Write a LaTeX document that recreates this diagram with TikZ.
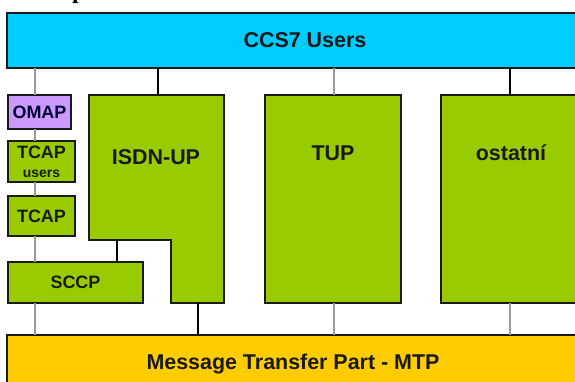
\documentclass[tikz,border=0pt]{standalone}
\usepackage{fontspec}
\setmainfont{Liberation Sans}
\newfontfamily\headfont{Liberation Serif}
\definecolor{usercyan}{HTML}{00CCFF}
\definecolor{partgreen}{HTML}{99CC00}
\definecolor{mtpyellow}{HTML}{FFCC00}
\definecolor{omappurple}{HTML}{CC99FF}
\definecolor{edge}{HTML}{1A1A1A}
\definecolor{greyline}{HTML}{9A9A9A}
\begin{document}
\begin{tikzpicture}[x=1bp,y=-1bp,
  blk/.style={draw=edge,line width=1.3bp,inner sep=0pt,outer sep=0pt,font=\bfseries},
  lbl/.style={inner sep=0pt,font=\bfseries\fontsize{21.5}{24}\selectfont,text=black!90},
  smalllbl/.style={inner sep=0pt,font=\bfseries\fontsize{18}{20}\selectfont,text=black!90},
  darkwire/.style={draw=black,line width=1.2bp},
  greywire/.style={draw=greyline,line width=2bp}]
\useasboundingbox (0,0) rectangle (575,381);

% remnant of the heading above the diagram
\node[anchor=base west,inner sep=0pt,font=\headfont\bfseries\fontsize{24}{26}\selectfont] (head) at (72,-1.2) {p};

% CCS7 users layer and MTP layer
\node[blk,fill=usercyan,minimum width=596bp,minimum height=55bp] (ccs) at (305,40.5) {};
\node[lbl] (ccstext) at (305,40.5) {CCS7 Users};
\node[blk,fill=mtpyellow,minimum width=572bp,minimum height=58bp,anchor=north] (mtp) at (293,335) {};
\node[lbl] (mtptext) at (293,364) {Message Transfer Part - MTP};

% left stack
\node[blk,fill=omappurple,minimum width=63bp,minimum height=34bp] (omap) at (39.5,112) {};
\node[inner sep=0pt,font=\bfseries\fontsize{18}{20}\selectfont,text=black!80!blue] (omaptext) at (39.5,112) {OMAP};
\node[blk,fill=partgreen,minimum width=67bp,minimum height=41bp] (tcapu) at (41.5,161.5) {};
\node[smalllbl] (tcaputext) at (41.5,152.5) {TCAP};
\node[inner sep=0pt,font=\bfseries\fontsize{14}{16}\selectfont,text=black!90] (userstext) at (41.5,173.5) {users};
\node[blk,fill=partgreen,minimum width=67bp,minimum height=40bp] (tcap) at (41.5,216) {};
\node[smalllbl] (tcaptext) at (41.5,216) {TCAP};
\node[blk,fill=partgreen,minimum width=135bp,minimum height=41bp] (sccp) at (75.5,282.5) {};
\node[smalllbl] (sccptext) at (75.5,282.5) {SCCP};

% ISDN-UP as an L-shaped block
\draw[blk,fill=partgreen] (89,95) -- (224,95) -- (224,303) -- (171,303) -- (171,240) -- (89,240) -- cycle;
\coordinate (isdntop) at (158,95);
\coordinate (isdnnotch) at (117,240);
\coordinate (isdnfoot) at (198,303);
\node[lbl] (isdntext) at (156,157) {ISDN-UP};

% TUP and other user parts
\node[blk,fill=partgreen,minimum width=136bp,minimum height=208bp,anchor=north west] (tup) at (265,95) {};
\node[lbl] (tuptext) at (333,153) {TUP};
\node[blk,fill=partgreen,minimum width=140bp,minimum height=208bp,anchor=north west] (ost) at (441,95) {};
\node[lbl] (osttext) at (511,153) {ostatní};

% connectors
\coordinate (lx) at (35,0);
\coordinate (tx) at (334,0);
\coordinate (ox) at (510,0);
\draw[greywire] (ccs.south -| lx) -- (omap.north -| lx);
\draw[greywire] (omap.south -| lx) -- (tcapu.north -| lx);
\draw[greywire] (tcapu.south -| lx) -- (tcap.north -| lx);
\draw[greywire] (tcap.south -| lx) -- (sccp.north -| lx);
\draw[greywire] (sccp.south -| lx) -- (mtp.north -| lx);
\draw[darkwire] (ccs.south -| isdntop) -- (isdntop);
\draw[darkwire] (isdnnotch) -- (sccp.north -| isdnnotch);
\draw[darkwire] (isdnfoot) -- (mtp.north -| isdnfoot);
\draw[greywire] (ccs.south -| tx) -- (tup.north -| tx);
\draw[greywire] (tup.south -| tx) -- (mtp.north -| tx);
\draw[darkwire] (ccs.south -| ox) -- (ost.north -| ox);
\draw[greywire] (ost.south -| ox) -- (mtp.north -| ox);
\end{tikzpicture}
\end{document}
